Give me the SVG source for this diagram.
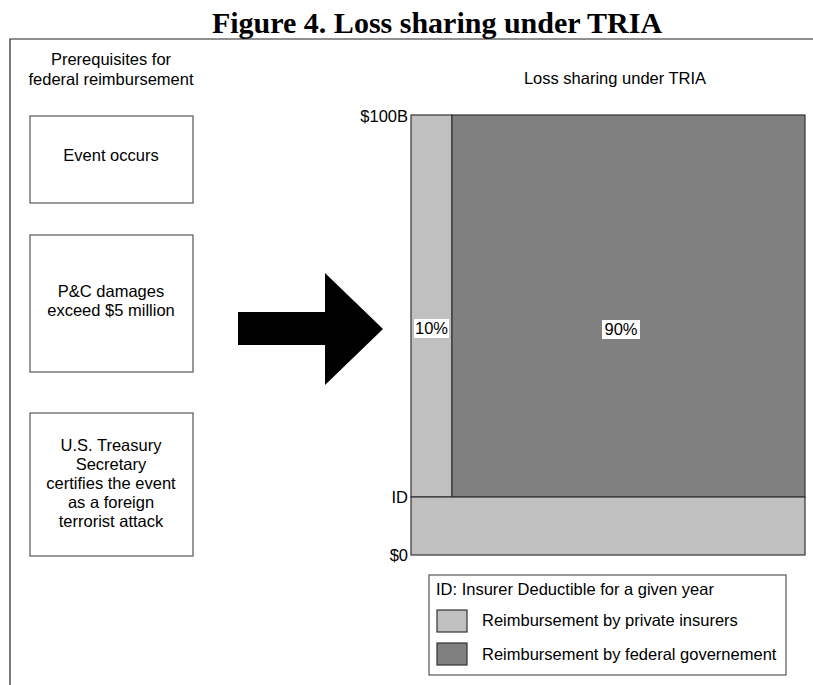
<svg xmlns="http://www.w3.org/2000/svg" width="813" height="685" viewBox="0 0 813 685">
<style>
.t{font-family:"Liberation Sans",Arial,sans-serif;font-size:16.5px;fill:#000}
.c{text-anchor:middle}
.r{text-anchor:end}
.box{fill:#fff;stroke:#555;stroke-width:1.2}
.light{fill:#c0c0c0;stroke:#333;stroke-width:1.2}
.dark{fill:#808080;stroke:#333;stroke-width:1.2}
</style>
<rect width="813" height="685" fill="#fff"/>
<text x="437" y="33" text-anchor="middle" font-family="'Liberation Serif','Times New Roman',serif" font-weight="bold" font-size="30">Figure 4. Loss sharing under TRIA</text>
<path d="M10 685V39H813" fill="none" stroke="#222" stroke-width="1.2"/>
<g id="prereq-title">
<text class="t c" x="111" y="65">Prerequisites for</text>
<text class="t c" x="111" y="85">federal reimbursement</text>
</g>
<g id="node-event">
<rect class="box" x="30" y="116" width="163" height="87"/>
<text class="t c" x="111" y="161">Event occurs</text>
</g>
<g id="node-damages">
<rect class="box" x="30" y="235" width="163" height="137"/>
<text class="t c" x="111" y="297">P&amp;C damages</text>
<text class="t c" x="111" y="316">exceed $5 million</text>
</g>
<g id="node-certify">
<rect class="box" x="30" y="413" width="163" height="143"/>
<text class="t c" x="111" y="451">U.S. Treasury</text>
<text class="t c" x="111" y="470">Secretary</text>
<text class="t c" x="111" y="489">certifies the event</text>
<text class="t c" x="111" y="508">as a foreign</text>
<text class="t c" x="111" y="527">terrorist attack</text>
</g>
<g id="connectors">
<polygon points="238,312 325,312 325,273 383,329 325,385 325,345 238,345" fill="#000"/>
</g>
<g id="chart">
<text class="t c" x="615" y="84">Loss sharing under TRIA</text>
<rect class="light" x="411" y="115" width="41" height="382"/>
<rect class="dark" x="452" y="115" width="353" height="382"/>
<rect class="light" x="411" y="497" width="394" height="58"/>
<text class="t r" x="408" y="122">$100B</text>
<text class="t r" x="408" y="503">ID</text>
<text class="t r" x="408" y="561">$0</text>
<rect x="414" y="319" width="35" height="19" fill="#fff"/>
<text class="t c" x="431.5" y="334">10%</text>
<rect x="602" y="320" width="38" height="19" fill="#fff"/>
<text class="t c" x="621" y="335">90%</text>
</g>
<g id="legend">
<rect class="box" x="429" y="575" width="357" height="100"/>
<text class="t" x="436" y="595">ID: Insurer Deductible for a given year</text>
<rect class="light" x="437" y="610" width="30" height="22" stroke="#555"/>
<text class="t" x="482" y="626">Reimbursement by private insurers</text>
<rect class="dark" x="437" y="643" width="30" height="22" stroke="#555"/>
<text class="t" x="482" y="660">Reimbursement by federal governement</text>
</g>
</svg>
